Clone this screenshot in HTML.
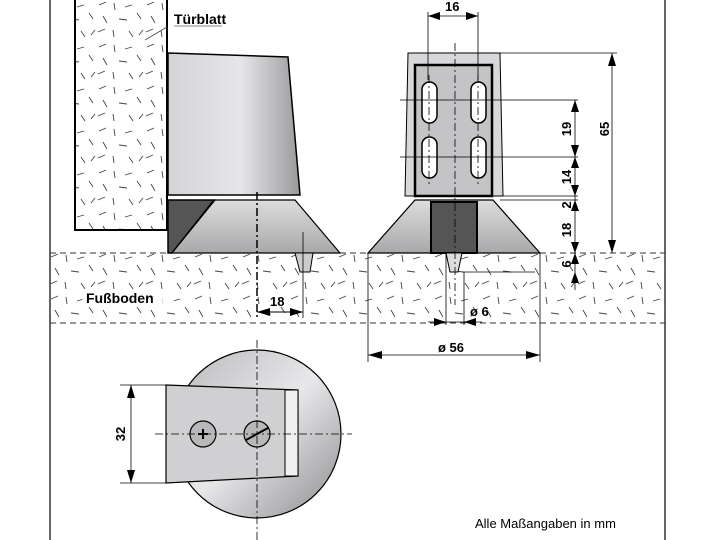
<!DOCTYPE html>
<html><head><meta charset="utf-8"><style>
html,body{margin:0;padding:0;background:#fff}
svg{display:block;font-family:"Liberation Sans",sans-serif}
.b{font-weight:bold}
</style></head><body>
<svg width="720" height="540" viewBox="0 0 720 540" xmlns="http://www.w3.org/2000/svg">
<defs>
<linearGradient id="g1" x1="0" x2="1" y1="0" y2="0">
<stop offset="0" stop-color="#d4d4d6"/><stop offset="0.55" stop-color="#e6e6e8"/><stop offset="1" stop-color="#9a9a9c"/></linearGradient>
<linearGradient id="g2" x1="0" x2="0" y1="0" y2="1">
<stop offset="0" stop-color="#dcdcdc"/><stop offset="1" stop-color="#a9a9ab"/></linearGradient>
<linearGradient id="g3" x1="0" x2="1" y1="0" y2="1">
<stop offset="0" stop-color="#b8b8ba"/><stop offset="0.5" stop-color="#e8e8ea"/><stop offset="1" stop-color="#8c8c8e"/></linearGradient>
<pattern id="sp" width="48" height="42" patternUnits="userSpaceOnUse">
<g stroke="#444" stroke-width="0.9">
<line x1="3" y1="5" x2="10" y2="2"/><line x1="18" y1="3" x2="19" y2="10"/><line x1="29" y1="7" x2="36" y2="5"/><line x1="41" y1="13" x2="45" y2="19"/>
<line x1="7" y1="16" x2="11" y2="23"/><line x1="23" y1="19" x2="31" y2="20"/><line x1="2" y1="32" x2="9" y2="29"/><line x1="17" y1="30" x2="18" y2="37"/>
<line x1="33" y1="31" x2="37" y2="37"/><line x1="43" y1="35" x2="47" y2="30"/></g></pattern>
</defs>
<line x1="50" y1="0" x2="50" y2="540" stroke="#000" stroke-width="1.2"/>
<line x1="665" y1="0" x2="665" y2="540" stroke="#000" stroke-width="1.2"/>
<!-- floor -->
<rect x="50" y="253" width="615" height="70" fill="url(#sp)"/>
<g stroke="#333" stroke-dasharray="6,4" stroke-width="1">
<line x1="50" y1="253" x2="665" y2="253"/><line x1="50" y1="323" x2="665" y2="323"/></g>
<!-- door -->
<rect x="75" y="-2" width="92" height="232" fill="#fff" stroke="#000" stroke-width="2"/>
<rect x="76" y="0" width="90" height="229" fill="url(#sp)"/>
<text x="174" y="24" class="b" font-size="14">Türblatt</text>
<line x1="174" y1="26" x2="222" y2="26" stroke="#888"/>
<line x1="145" y1="40" x2="167" y2="27" stroke="#555"/>
<!-- left stopper -->
<polygon points="168,53 288,57 300,195 168,195" fill="url(#g1)" stroke="#000" stroke-width="1.5"/>
<polygon points="168,200 214,200 172,253 168,253" fill="#555" stroke="#000" stroke-width="1.5"/>
<polygon points="215,200 295,200 340,253 172,253" fill="url(#g2)" stroke="#000" stroke-width="1.2"/>
<polygon points="295,253 313,253 310,272 300,272" fill="#ccc" stroke="#000"/>
<line x1="257" y1="192" x2="257" y2="318" stroke="#000" stroke-width="1.5" stroke-dasharray="8,3,2,3"/>
<line x1="303" y1="232" x2="303" y2="318" stroke="#000" stroke-width="0.8"/>
<line x1="257" y1="312" x2="303" y2="312" stroke="#000"/>
<polygon points="257,312 270,308 270,316" fill="#000"/><polygon points="303,312 290,308 290,316" fill="#000"/>
<rect x="82" y="289" width="92" height="18" fill="#fff" opacity="0.8"/>
<text x="86" y="303" class="b" font-size="14">Fußboden</text>
<rect x="267" y="293" width="22" height="14" fill="#fff" opacity="0.8"/>
<text x="270" y="306" class="b" font-size="13">18</text>
<!-- right view -->
<polygon points="408,53 500,53 503,196 405,196" fill="#d8d8da" stroke="#000" stroke-width="1"/>
<rect x="415" y="65" width="77" height="131" fill="#c4c4c6" stroke="#000" stroke-width="2.5"/>
<polygon points="415,200 493,200 540,253 368,253" fill="url(#g2)" stroke="#000" stroke-width="1.2"/>
<rect x="431" y="202" width="46" height="51" fill="#555" stroke="#000" stroke-width="2"/>
<polygon points="446,253 462,253 458,272 450,272" fill="#ddd" stroke="#000"/>
<g fill="#fff" stroke="#000" stroke-width="1.5">
<rect x="422" y="82" width="15" height="41" rx="7.5"/><rect x="471" y="82" width="15" height="41" rx="7.5"/>
<rect x="422" y="137" width="15" height="41" rx="7.5"/><rect x="471" y="137" width="15" height="41" rx="7.5"/></g>
<g stroke="#000" stroke-width="0.8" stroke-dasharray="8,3,2,3" fill="none">
<line x1="429" y1="75" x2="429" y2="185"/><line x1="478" y1="75" x2="478" y2="185"/>
<line x1="455" y1="43" x2="455" y2="305"/></g>
<g stroke="#000" stroke-width="0.8">
<line x1="428" y1="12" x2="428" y2="80"/><line x1="478" y1="12" x2="478" y2="80"/>
<line x1="428" y1="16" x2="478" y2="16"/>
<line x1="500" y1="53" x2="617" y2="53"/><line x1="612" y1="53" x2="612" y2="253"/>
<line x1="400" y1="100" x2="578" y2="100"/><line x1="400" y1="157" x2="578" y2="157"/>
<line x1="500" y1="196" x2="578" y2="196"/><line x1="500" y1="200" x2="578" y2="200"/>
<line x1="575" y1="100" x2="575" y2="290"/>
<line x1="462" y1="272" x2="535" y2="272"/>
<line x1="446" y1="253" x2="446" y2="325"/><line x1="464" y1="272" x2="464" y2="325"/>
<line x1="428" y1="322" x2="482" y2="322"/>
<line x1="368" y1="253" x2="368" y2="362"/><line x1="540" y1="253" x2="540" y2="362"/>
<line x1="368" y1="355" x2="540" y2="355"/>
<line x1="131" y1="385" x2="131" y2="483"/>
<line x1="120" y1="385" x2="166" y2="385"/><line x1="120" y1="483" x2="166" y2="483"/>
</g>
<g fill="#000">
<polygon points="428,16 440,12 440,20"/><polygon points="478,16 466,12 466,20"/>
<polygon points="612,53 608,66 616,66"/><polygon points="612,253 608,240 616,240"/>
<polygon points="575,100 571,112 579,112"/><polygon points="575,157 571,145 579,145"/>
<polygon points="575,157 571,168 579,168"/><polygon points="575,196 571,185 579,185"/>
<polygon points="575,200 571,211 579,211"/><polygon points="575,253 571,242 579,242"/>
<polygon points="575,253 571,264 579,264"/><polygon points="575,272 571,283 579,283"/>
<polygon points="446,322 434,318 434,326"/><polygon points="464,322 476,318 476,326"/>
<polygon points="368,355 382,351 382,359"/><polygon points="540,355 526,351 526,359"/>
<polygon points="131,385 127,398 135,398"/><polygon points="131,483 127,470 135,470"/>
</g>
<g class="b" font-size="13">
<text x="445" y="11">16</text>
<text x="470" y="316">ø 6</text>
<text x="438" y="352">ø 56</text>
<text transform="translate(609,129) rotate(-90)" text-anchor="middle">65</text>
<text transform="translate(571,129) rotate(-90)" text-anchor="middle">19</text>
<text transform="translate(571,177) rotate(-90)" text-anchor="middle">14</text>
<text transform="translate(571,205) rotate(-90)" text-anchor="middle">2</text>
<text transform="translate(571,230) rotate(-90)" text-anchor="middle">18</text>
<text transform="translate(571,264) rotate(-90)" text-anchor="middle">6</text>
<text transform="translate(125,434) rotate(-90)" text-anchor="middle">32</text>
</g>
<!-- bottom view -->
<circle cx="257" cy="434" r="84" fill="url(#g3)" stroke="#000" stroke-width="1.2"/>
<polygon points="166,385 298,390 298,476 166,483" fill="#d0d0d2" stroke="#000" stroke-width="1.2"/>
<polygon points="285,390 298,390 298,476 285,476" fill="#f0f0f0" stroke="#000"/>
<circle cx="203" cy="434" r="13" fill="#b8b8ba" stroke="#000" stroke-width="1.2"/>
<circle cx="257" cy="434" r="13" fill="#b8b8ba" stroke="#000" stroke-width="1.2"/>
<path d="M198,434 h10 M203,429 v10" stroke="#000" stroke-width="2"/>
<line x1="246" y1="440" x2="268" y2="428" stroke="#000" stroke-width="2"/>
<g stroke="#000" stroke-width="0.8" stroke-dasharray="8,3,2,3">
<line x1="155" y1="434" x2="352" y2="434"/><line x1="257" y1="340" x2="257" y2="540"/></g>
<text x="475" y="528" font-size="13">Alle Maßangaben in mm</text>
</svg>
</body></html>
